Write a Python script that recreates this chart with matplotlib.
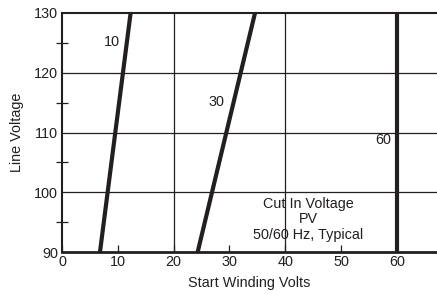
import matplotlib.pyplot as plt
from matplotlib.ticker import MultipleLocator

plt.rcParams['font.family'] = ['Liberation Sans', 'DejaVu Sans']

# start winding volts at 90 V and 130 V line voltage
line_v = [90, 130]
curve_10 = [6.8, 12.3]
curve_30 = [24.3, 34.6]
curve_60 = [60, 60]
curve_labels = ['10', '30', '60']
label_pos = [(9.0, 125.1), (27.7, 115.1), (57.6, 108.8)]

fig = plt.figure(figsize=(4.37, 2.95), dpi=100)
ax = fig.add_axes([62/437, 1 - 252.3/295, 1 - 62/437, (252.3 - 12.7)/295])

for xs in (curve_10, curve_30, curve_60):
    ax.plot(xs, line_v, color='#231f20', lw=3.0, solid_capstyle='butt', zorder=3)

for lab, (lx, ly) in zip(curve_labels, label_pos):
    ax.text(lx, ly, lab, fontsize=10.4, ha='center', va='center', color='#231f20')

ax.text(44.1, 95.5, 'Cut In Voltage\nPV\n50/60 Hz, Typical', fontsize=10.4,
        ha='center', va='center', linespacing=1.15, color='#231f20')

ax.set_xlim(0, 67.2)
ax.set_ylim(90, 130)
ax.xaxis.set_major_locator(MultipleLocator(10))
ax.yaxis.set_major_locator(MultipleLocator(10))
ax.yaxis.set_minor_locator(MultipleLocator(5))

for gx in (20, 40):
    ax.axvline(gx, color='#231f20', lw=0.9, zorder=1)
for gy in (100, 110, 120):
    ax.axhline(gy, color='#231f20', lw=0.9, zorder=1)

ax.tick_params(axis='x', which='major', direction='in', length=5, width=0.9,
               labelsize=10.4, pad=2, colors='#231f20')
ax.tick_params(axis='y', which='major', length=0, labelsize=10.4, pad=3, colors='#231f20')
ax.tick_params(axis='y', which='minor', direction='inout', length=9, width=0.9, colors='#231f20')

ax.spines['right'].set_visible(False)
ax.spines['top'].set_linewidth(1.5)
ax.spines['left'].set_linewidth(1.5)
ax.spines['bottom'].set_linewidth(2.0)
for s in ax.spines.values():
    s.set_color('#231f20')

ax.set_xlabel('Start Winding Volts', fontsize=10.4, labelpad=5, color='#231f20')
ax.set_ylabel('Line Voltage', fontsize=10.4, labelpad=7, color='#231f20')

fig.savefig('out.png', dpi=100)
